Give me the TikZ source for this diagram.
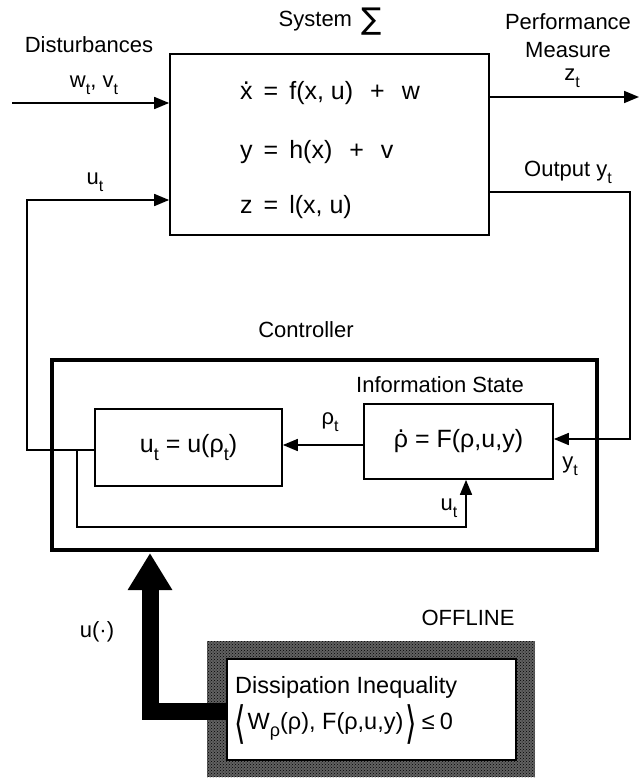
\RequirePackage{fix-cm}
\documentclass[tikz,border=0pt]{standalone}
\usepackage{fontspec}
\setmainfont{Liberation Sans}
\newfontfamily\dejavu{DejaVu Sans}
\usetikzlibrary{arrows.meta,patterns}
\newcommand\sbt[1]{\raisebox{-0.32em}{\fontsize{16}{16}\selectfont #1}}
\newcommand\sbb[1]{\raisebox{-0.32em}{\fontsize{18}{18}\selectfont #1}}
\newcommand\dotacc[1]{\setbox0\hbox{#1}\makebox[0pt][l]{\makebox[\wd0]{\raisebox{0.6em}{.}}}\box0{}}
\newcommand\gp{\hspace{11pt}}
\newcommand\gq{\hspace{17pt}}
\newcommand\lang{\raisebox{-0.38em}{\scalebox{1.25}[1.9]{\dejavu ⟨}}}
\newcommand\rang{\raisebox{-0.38em}{\scalebox{1.25}[1.9]{\dejavu ⟩}}}
\begin{document}
\begin{tikzpicture}[x=1pt,y=-1pt, font=\fontsize{22}{26}\selectfont,
  box/.style={draw, line width=1.7pt, inner sep=0pt},
  conn/.style={line width=1.7pt},
  arr/.style={conn, -{Triangle[length=15pt,width=12pt]}},
  lbl/.style={inner sep=0pt},
  eqn/.style={inner sep=0pt, font=\fontsize{25}{28}\selectfont}]
\useasboundingbox (0,0) rectangle (643,781);
% system
\node[box, minimum width=319pt, minimum height=181pt] (sys) at (329.5,144.5) {};
\node[lbl] (systitle) at (330,22) {System\hspace{9pt}\raisebox{-3pt}{\dejavu\fontsize{30}{30}\selectfont ∑}};
\node[eqn, anchor=west] (e1) at (240,93) {\dotacc{x}\gp=\gp f(x, u)\gq+\gq w};
\node[eqn, anchor=west] (e2) at (240,152) {y\gp=\gp h(x)\gq+\gq v};
\node[eqn, anchor=west] (e3) at (240,207) {z\gp=\gp l(x, u)};
% inputs / outputs
\node[lbl] (dist) at (89,45) {Disturbances};
\node[lbl] (wv) at (94,85) {w\sbt{t}, v\sbt{t}};
\coordinate (din) at (12,103);
\draw[arr] (din) -- (sys.west |- din);
\node[lbl] (perf) at (568,22) {Performance};
\node[lbl] (meas) at (568,50) {Measure};
\node[lbl] (zt) at (572,78) {z\sbt{t}};
\coordinate (zout) at (639,97);
\draw[arr] (sys.east |- zout) -- (zout);
\node[lbl] (utl) at (95,182) {u\sbt{t}};
\node[lbl] (outl) at (568,172) {Output y\sbt{t}};
% controller
\node[lbl] (ctitle) at (306,330) {Controller};
\node[draw, line width=3.2pt, minimum width=545pt, minimum height=190pt, inner sep=0pt] (ctrl) at (324.5,455) {};
\node[lbl] (istitle) at (440,385) {Information State};
\node[box, minimum width=187pt, minimum height=77pt, font=\fontsize{25}{28}\selectfont] (lbox) at (188.5,447.5) {u\sbb{t} = u(ρ\sbb{t})};
\node[box, minimum width=189pt, minimum height=75pt, font=\fontsize{25}{28}\selectfont] (rbox) at (458.5,441.5) {\dotacc{ρ} = F(ρ,u,y)};
\draw[arr] (rbox.west |- 0,445) -- (lbox.east |- 0,445);
\node[lbl] (rhot) at (330,422) {ρ\sbt{t}};
% feedback loops
\coordinate (lft) at (27,450);
\draw[arr] (lbox.west |- lft) -- (lft) |- (sys.west |- 0,200);
\coordinate (rgt) at (630,192);
\draw[arr] (sys.east |- rgt) -- (rgt) |- (rbox.east |- 0,439);
\node[lbl] (ytl) at (570,466) {y\sbt{t}};
\coordinate (split) at (77,450);
\coordinate (fb) at (466,527);
\draw[arr] (split) |- (fb) -- (fb |- rbox.south);
\node[lbl] (ut2) at (449,508) {u\sbt{t}};
% offline
\node[lbl] (offl) at (468,618) {OFFLINE};
\node[fill=black!62, minimum width=328pt, minimum height=136pt, inner sep=0pt,
  postaction={pattern=crosshatch dots, pattern color=black}] (offout) at (371,709) {};
\node[draw, fill=white, line width=1.2pt, minimum width=289pt, minimum height=101pt, inner sep=0pt] (offin) at (371.5,709.5) {};
\node[lbl, anchor=west, font=\fontsize{23.5}{26}\selectfont] (di1) at (235,687) {Dissipation Inequality};
\node[lbl, anchor=west, font=\fontsize{23.5}{26}\selectfont] (di2) at (234,724) {\lang\hspace{2pt}W\sbb{ρ}(ρ), F(ρ,u,y)\hspace{2pt}\rang\hspace{5pt}≤\hspace{5pt}0};
\draw[line width=17pt, line join=miter, -{Triangle[length=37pt,width=42pt]}] (offin.west |- 0,711) -- (150,711) -- (150,553);
\node[lbl] (ul) at (97,632) {u(·)};
\end{tikzpicture}
\end{document}
